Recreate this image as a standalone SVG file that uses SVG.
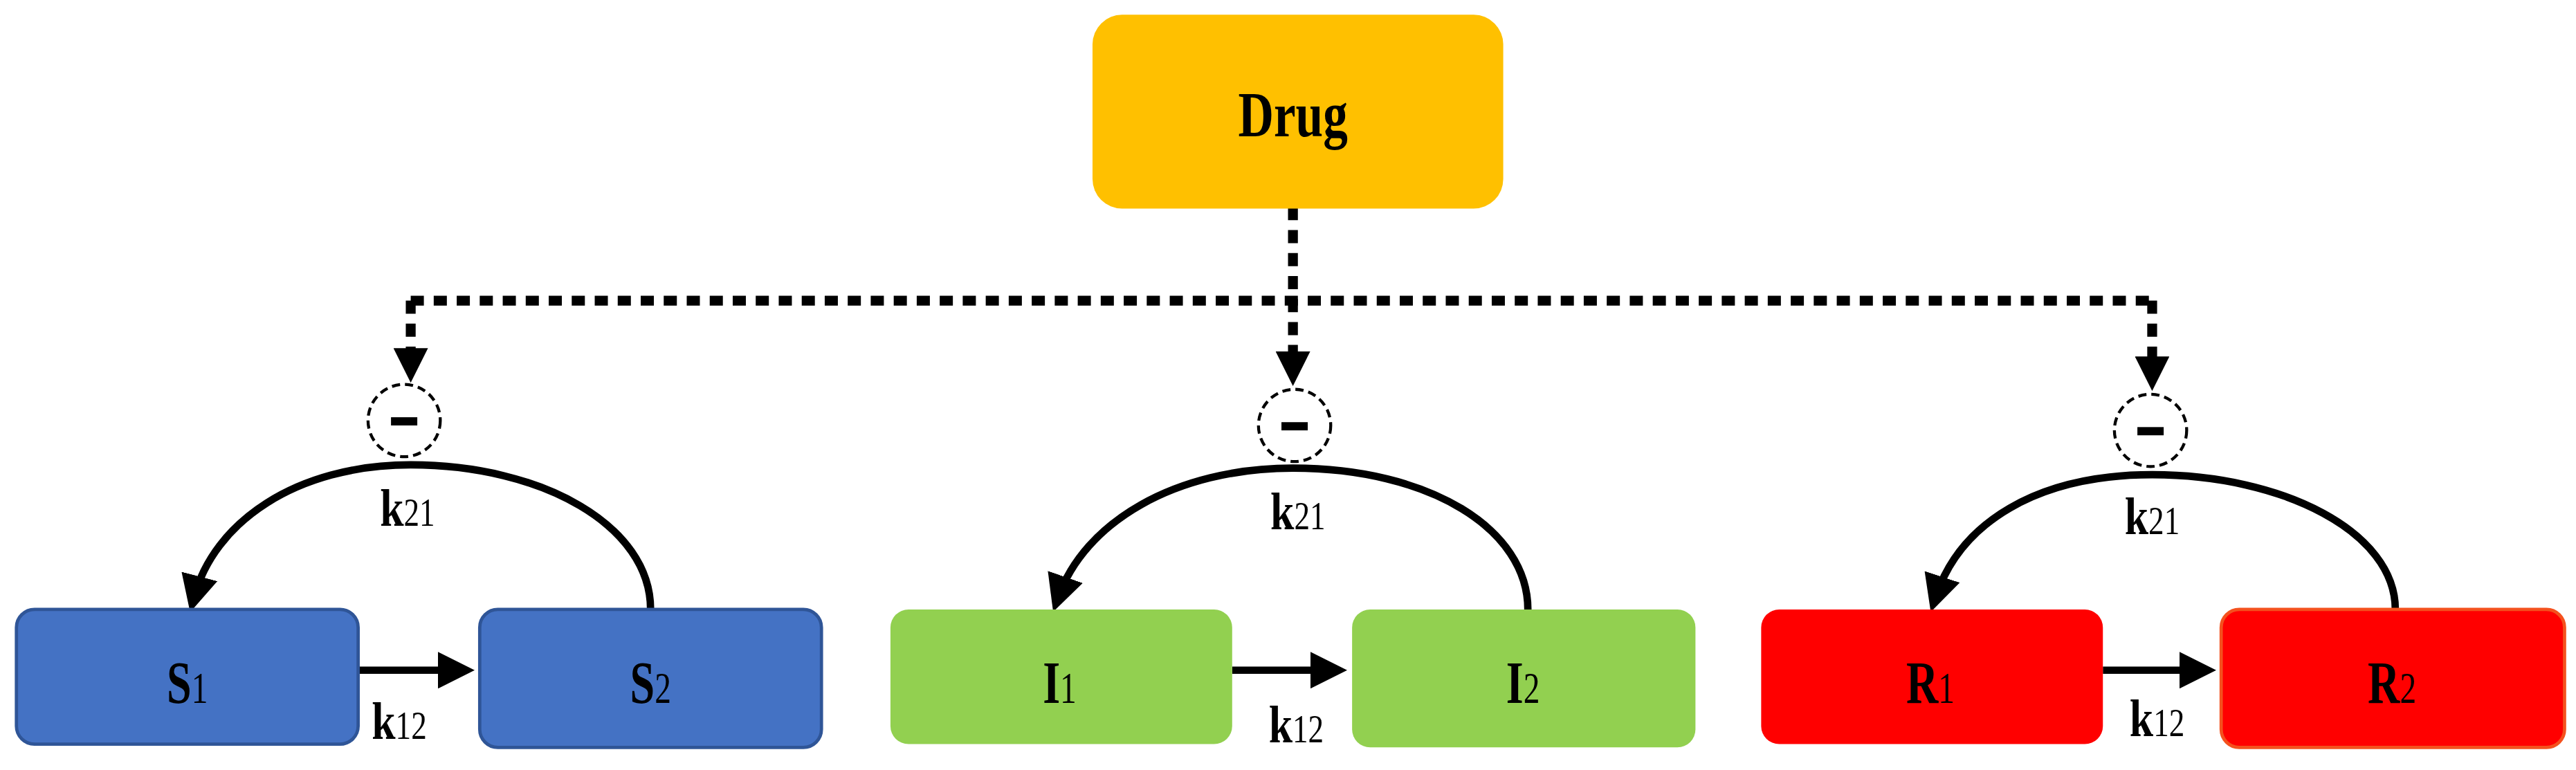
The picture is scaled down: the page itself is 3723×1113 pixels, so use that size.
<svg xmlns="http://www.w3.org/2000/svg" width="3723" height="1113" viewBox="0 0 3723 1113">
<style>
.t{font-family:"Liberation Serif","Times New Roman",serif;font-weight:bold;fill:#000;text-anchor:middle}
.s{font-weight:normal}
.arc{fill:none;stroke:#000;stroke-width:4.5}
.dot{fill:none;stroke:#000;stroke-width:6;stroke-dasharray:8,6}
.neg{fill:#fff;stroke:#000;stroke-width:1.8;stroke-dasharray:5,3}
</style>
<defs>
<marker id="ah" markerWidth="5" markerHeight="5" refX="3" refY="2.5" orient="auto" markerUnits="strokeWidth"><path d="M0,0 L5,2.5 L0,5 z" fill="#000"/></marker>
<marker id="ad" markerWidth="3.5" markerHeight="3.5" refX="2" refY="1.75" orient="auto" markerUnits="strokeWidth"><path d="M0,0 L3.5,1.75 L0,3.5 z" fill="#000"/></marker>
</defs>
<rect width="3723" height="1113" fill="#fff"/>
<g transform="scale(2.3744)">
<g id="connectors">
<path class="dot" d="M787,126 V226" marker-end="url(#ad)"/>
<path class="dot" d="M250,183 H1310"/>
<path class="dot" d="M250,183 V224" marker-end="url(#ad)"/>
<path class="dot" d="M1310,183 V229" marker-end="url(#ad)"/>
<path class="arc" d="M396,371 C396,320 330,283 250,283 C180,283 130,318 118,364" marker-end="url(#ah)"/>
<path class="arc" d="M930,371 C930,322 870,285 787,285 C715,285 660,318 644,364" marker-end="url(#ah)"/>
<path class="arc" d="M1458,371 C1458,324 1390,289 1310,289 C1240,289 1193,318 1178,364" marker-end="url(#ah)"/>
<path class="arc" d="M218,408 H280" marker-end="url(#ah)"/>
<path class="arc" d="M750,408 H811" marker-end="url(#ah)"/>
<path class="arc" d="M1280,408 H1340" marker-end="url(#ah)"/>
<text class="t" transform="translate(248,320) scale(1,1.25)" font-size="26">k<tspan class="s" font-size="19">21</tspan></text>
<text class="t" transform="translate(790,322) scale(1,1.25)" font-size="26">k<tspan class="s" font-size="19">21</tspan></text>
<text class="t" transform="translate(1310,325) scale(1,1.25)" font-size="26">k<tspan class="s" font-size="19">21</tspan></text>
<text class="t" transform="translate(243,450) scale(1,1.25)" font-size="26">k<tspan class="s" font-size="19">12</tspan></text>
<text class="t" transform="translate(789,452) scale(1,1.25)" font-size="26">k<tspan class="s" font-size="19">12</tspan></text>
<text class="t" transform="translate(1313,448) scale(1,1.25)" font-size="26">k<tspan class="s" font-size="19">12</tspan></text>
</g>
<g id="neg1"><ellipse class="neg" cx="246" cy="256" rx="22" ry="22"/><rect x="238" y="254" width="16" height="5" fill="#000"/></g>
<g id="neg2"><ellipse class="neg" cx="788" cy="259" rx="22" ry="22"/><rect x="780" y="257" width="16" height="5" fill="#000"/></g>
<g id="neg3"><ellipse class="neg" cx="1309" cy="262" rx="22" ry="22"/><rect x="1301" y="260" width="16" height="5" fill="#000"/></g>
<g id="drug"><rect x="665" y="9" width="250" height="118" rx="18" fill="#FFC000"/><text class="t" transform="translate(787,83) scale(1,1.3)" font-size="30">Drug</text></g>
<g id="S1"><rect x="10" y="371" width="208" height="82" rx="11" fill="#4472C4" stroke="#2F5597" stroke-width="2"/><text class="t" transform="translate(114,428) scale(1,1.35)" font-size="27">S<tspan class="s" font-size="20">1</tspan></text></g>
<g id="S2"><rect x="292" y="371" width="208" height="84" rx="11" fill="#4472C4" stroke="#2F5597" stroke-width="2"/><text class="t" transform="translate(396,428) scale(1,1.35)" font-size="27">S<tspan class="s" font-size="20">2</tspan></text></g>
<g id="I1"><rect x="542" y="371" width="208" height="82" rx="11" fill="#92D050"/><text class="t" transform="translate(645,428) scale(1,1.35)" font-size="27">I<tspan class="s" font-size="20">1</tspan></text></g>
<g id="I2"><rect x="823" y="371" width="209" height="84" rx="11" fill="#92D050"/><text class="t" transform="translate(927,428) scale(1,1.35)" font-size="27">I<tspan class="s" font-size="20">2</tspan></text></g>
<g id="R1"><rect x="1072" y="371" width="208" height="82" rx="11" fill="#FF0000"/><text class="t" transform="translate(1175,428) scale(1,1.35)" font-size="27">R<tspan class="s" font-size="20">1</tspan></text></g>
<g id="R2"><rect x="1352" y="371" width="209" height="84" rx="11" fill="#FF0000" stroke="#F4511E" stroke-width="2"/><text class="t" transform="translate(1456,428) scale(1,1.35)" font-size="27">R<tspan class="s" font-size="20">2</tspan></text></g>
</g>
</svg>
